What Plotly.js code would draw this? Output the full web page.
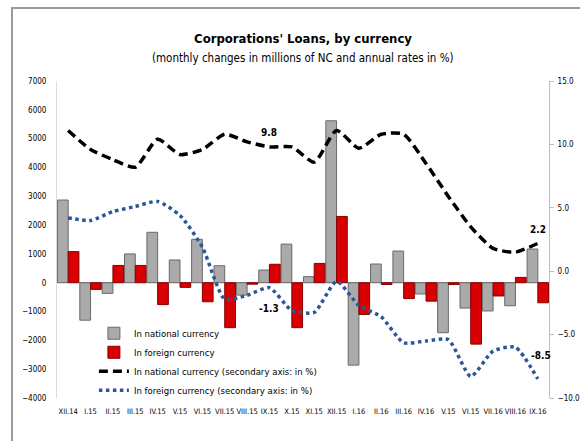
<!DOCTYPE html>
<html>
<head>
<meta charset="utf-8">
<script src="https://cdn.plot.ly/plotly-3.0.1.min.js"></script>
<style>
  html, body { margin: 0; padding: 0; background: #fff; }
  #wrap { position: relative; width: 580px; height: 441px; overflow: hidden; }
  #frame { position: absolute; left: 11px; top: 7px; width: 700px; height: 600px;
           border-left: 2px solid #9a9a9a; border-top: 2px solid #9a9a9a; pointer-events: none; }
  #chart { position: absolute; left: 0; top: 0; width: 580px; height: 441px; }
</style>
</head>
<body>
<div id="wrap">
  <div id="chart"></div>
  <div id="frame"></div>
</div>
<script>
const categories = ["XII.14","I.15","II.15","III.15","IV.15","V.15","VI.15","VII.15","VIII.15","IX.15","X.15",
                    "XI.15","XII.15","I.16","II.16","III.16","IV.16","V.15","VI.15","VII.16","VIII.16","IX.16"];
const nationalChange = [2870,-1300,-370,1000,1750,790,1505,590,-430,440,1340,
                        210,5620,-2860,650,1100,-390,-1735,-880,-980,-800,1170];
const foreignChange = [1080,-230,600,600,-760,-160,-660,-1560,-50,640,-1560,
                       670,2300,-1100,-60,-550,-640,-60,-2130,-460,185,-695];
const nationalRate = [11.1,9.6,8.8,8.2,10.4,9.2,9.6,10.8,10.2,9.8,9.8,
                      8.6,11.1,9.7,10.8,10.8,8.5,5.9,3.5,1.8,1.5,2.2];
const foreignRate = [4.2,4.0,4.7,5.1,5.5,4.4,1.9,-2.2,-1.9,-1.3,-3.1,
                     -3.25,-0.8,-2.7,-3.6,-5.65,-5.5,-5.4,-8.3,-6.3,-6.0,-8.5];

// category labels repeat (V.15, VI.15 appear twice), so position by index
const xPos = categories.map((_, i) => i);

const FONT = '"Liberation Sans Narrow", "DejaVu Sans Condensed", "Liberation Sans", sans-serif';

const traces = [
  { type: 'bar', name: 'In national currency', x: xPos, y: nationalChange,
    marker: { color: '#aaaaaa', line: { color: '#6a6a6a', width: 1 } } },
  { type: 'bar', name: 'In foreign currency', x: xPos, y: foreignChange,
    marker: { color: '#d80000', line: { color: '#870000', width: 1 } } },
  { type: 'scatter', mode: 'lines', name: 'In national currency (secondary axis: in %)',
    x: xPos, y: nationalRate, yaxis: 'y2',
    line: { color: '#000000', width: 3.5, dash: '9px,5px', shape: 'spline', smoothing: 0.6 } },
  { type: 'scatter', mode: 'lines', name: 'In foreign currency (secondary axis: in %)',
    x: xPos, y: foreignRate, yaxis: 'y2',
    line: { color: '#2b5797', width: 3.5, dash: 'dot', shape: 'spline', smoothing: 0.6 } }
];

const lastIdx = categories.length - 1;
const labelAt = (i, arr, ys, xs) => ({
  x: xPos[i], y: arr[i], xref: 'x', yref: 'y2', text: '<b>' + arr[i].toFixed(1) + '</b>',
  showarrow: false, yshift: ys, xshift: xs || 0, font: { family: FONT, size: 10, color: '#000' }
});

const layout = {
  width: 580, height: 441,
  margin: { l: 57, r: 31, t: 81, b: 43, pad: 0 },
  paper_bgcolor: '#ffffff', plot_bgcolor: '#ffffff',
  font: { family: FONT, size: 9, color: '#000' },
  barmode: 'group', bargap: 0.04, bargroupgap: 0,
  showlegend: true,
  legend: { x: 0.075, y: 0.25, xanchor: 'left', yanchor: 'top', bgcolor: 'rgba(0,0,0,0)',
            font: { family: FONT, size: 9.5, color: '#000' }, tracegroupgap: 0 },
  title: { text: '<b>Corporations\' Loans, by currency</b>',
           x: 0.5, xref: 'paper', xanchor: 'center', y: 1 - 38 / 441, yanchor: 'middle',
           font: { family: FONT, size: 13, color: '#000' } },
  xaxis: { range: [-0.5, categories.length - 0.5], tickmode: 'array', tickvals: xPos, ticktext: categories,
           showgrid: false, zeroline: false, showline: false,
           ticks: '', tickfont: { family: FONT, size: 7.5 }, ticklabelstandoff: 7, tickangle: 0 },
  yaxis: { range: [-4000, 7000], dtick: 1000, showgrid: false, zeroline: true,
           zerolinecolor: '#a0a0a0', zerolinewidth: 1, showline: true, linecolor: '#dcdcdc',
           linewidth: 1, ticks: '', ticklabelstandoff: 8, tickfont: { family: FONT, size: 8 } },
  yaxis2: { range: [-10, 15], dtick: 5, overlaying: 'y', side: 'right', showgrid: false,
            zeroline: false, showline: true, linecolor: '#bdbdbd', linewidth: 1,
            ticks: 'outside', ticklen: 4, tickcolor: '#bdbdbd', tickformat: '.1f',
            ticklabelstandoff: 2, tickfont: { family: FONT, size: 8 } },
  annotations: [
    { text: '(monthly changes in millions of NC and annual rates in %)', xref: 'paper', yref: 'paper',
      x: 0.5, y: (398 - 58) / 317, xanchor: 'center', yanchor: 'middle', showarrow: false,
      font: { family: FONT, size: 11.5, color: '#000' } },
    labelAt(9, nationalRate, 14, 0),
    labelAt(9, foreignRate, -21, 0),
    labelAt(lastIdx, nationalRate, 14, 0),
    labelAt(lastIdx, foreignRate, 23, 3)
  ]
};

Plotly.newPlot('chart', traces, layout, { displayModeBar: false, staticPlot: true });
</script>
</body>
</html>
